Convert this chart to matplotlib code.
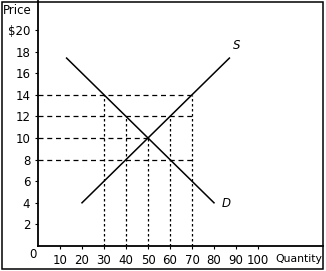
import numpy as np
import matplotlib.pyplot as plt
from matplotlib.patches import Rectangle

# supply and demand endpoints (quantity, price)
supply_q = [20, 87]
supply_p = [4, 17.4]
demand_q = [13, 80]
demand_p = [17.4, 4]

# dashed guide lines: (price, quantity reached)
h_prices = [14, 12, 10, 8]
h_qty = [70, 70, 50, 70]
# vertical guide lines: (quantity, price reached)
v_qty = [30, 40, 50, 60, 70]
v_price = [14, 12, 10, 12, 14]

x_ticks = [10, 20, 30, 40, 50, 60, 70, 80, 90, 100]
y_ticks = [2, 4, 6, 8, 10, 12, 14, 16, 18, 20]
y_labels = ['2', '4', '6', '8', '10', '12', '14', '16', '18', '$20']

plt.rcParams['font.family'] = 'DejaVu Sans'

fig = plt.figure(figsize=(3.26, 2.71), dpi=100)
ax = fig.add_axes([38/326, 25/271, 285/326, 245/271])
ax.set_xlim(0, 285/2.2)
ax.set_ylim(0, 245/10.8)

for p, q in zip(h_prices, h_qty):
    ax.plot([0, q], [p, p], color='black', lw=0.9, ls=(0, (4, 3)))
for q, p in zip(v_qty, v_price):
    ax.plot([q, q], [0, p], color='black', lw=0.9, ls=(0, (2, 2)))

ax.plot(supply_q, supply_p, color='black', lw=1.1)
ax.plot(demand_q, demand_p, color='black', lw=1.1)
ax.text(88.5, 18.2, 'S', fontsize=8.5, style='italic')
ax.text(83.5, 3.6, 'D', fontsize=8.5, style='italic')

ax.set_xticks(x_ticks)
ax.set_xticklabels([str(v) for v in x_ticks], fontsize=8.5)
ax.set_yticks(y_ticks)
ax.set_yticklabels(y_labels, fontsize=8.5)
ax.tick_params(length=2.5, width=0.8, pad=3)

for s in ['top', 'right']:
    ax.spines[s].set_visible(False)
ax.spines['left'].set_linewidth(1.3)
ax.spines['bottom'].set_linewidth(1.3)

fig.text(3/326, 1 - 10/271, 'Price', fontsize=8.5, va='center', ha='left')
fig.text(33/326, 1 - 255/271, '0', fontsize=8.5, va='center', ha='center')
fig.text(322/326, 1 - 259/271, 'Quantity', fontsize=7.8, va='center', ha='right')

fig.patches.append(Rectangle((1.5/326, 2/271), 321.5/326, 267.5/271, transform=fig.transFigure,
                             fill=False, edgecolor='black', lw=1.1))

fig.savefig('out.png', dpi=100)
